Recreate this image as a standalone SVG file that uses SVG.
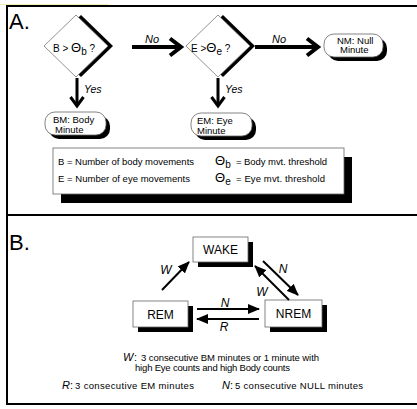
<svg xmlns="http://www.w3.org/2000/svg" width="417" height="409" viewBox="0 0 417 409">
<style>
.t{font-family:"Liberation Sans",Arial,sans-serif;fill:#000}
.i{font-style:italic}
.dia{fill:#fff;stroke:#777;stroke-width:0.8}
.sh{fill:#000;stroke:none}
.box{fill:#fff;stroke:#666;stroke-width:0.8}
.thick{stroke:#000;stroke-width:4;fill:none;stroke-linejoin:miter}
.med{stroke:#000;stroke-width:3;fill:none;stroke-linejoin:miter}
.thin{stroke:#000;stroke-width:2;fill:none}
.frame{stroke:#000;stroke-width:2;fill:none}
</style>
<defs>
<marker id="ah" viewBox="0 0 12 10" refX="11" refY="5" markerWidth="12" markerHeight="10" markerUnits="userSpaceOnUse" orient="auto">
<path d="M0,0 L12,5 L0,10 z" fill="#000"/>
</marker>
</defs>
<rect width="417" height="409" fill="#fff"/>
<line x1="0" y1="4.5" x2="108" y2="4.5" stroke="#f2eeb0" stroke-width="1"/>
<g id="frame">
<polyline class="frame" points="417,6 7,6 7,404 417,404"/>
<line class="frame" x1="7" y1="215" x2="417" y2="215"/>
</g>
<text class="t" x="9" y="29" font-size="22">A.</text>
<text class="t" x="9" y="250" font-size="22">B.</text>

<g id="nodeDiamondB">
<polygon class="sh" points="81,15 113,46 81,77 49,46"/>
<polygon class="dia" points="76,15 108,46 76,77 44,46"/>
<text class="t" x="53" y="52" font-size="10">B &gt; <tspan font-size="13">Θ</tspan><tspan dy="3">b</tspan><tspan dy="-3"> ?</tspan></text>
</g>
<g id="nodeDiamondE">
<polygon class="sh" points="223,15 255,46 223,77 191,46"/>
<polygon class="dia" points="218,15 250,46 218,77 186,46"/>
<text class="t" x="191" y="52" font-size="10">E &gt;<tspan font-size="13">Θ</tspan><tspan dy="3">e</tspan><tspan dy="-3"> ?</tspan></text>
</g>
<g id="nodeNM">
<rect class="sh" x="328" y="38" width="59" height="23" rx="10"/>
<rect class="box" x="324" y="34" width="59" height="23" rx="10"/>
<text class="t" font-size="9.5"><tspan x="337" y="43.5">NM: Null</tspan><tspan x="340" y="53">Minute</tspan></text>
</g>
<g id="nodeBM">
<rect class="sh" x="49" y="116" width="61" height="23" rx="10"/>
<rect class="box" x="45" y="112" width="61" height="23" rx="10"/>
<text class="t" font-size="9.5"><tspan x="53" y="122.5">BM: Body</tspan><tspan x="55" y="132.5">Minute</tspan></text>
</g>
<g id="nodeEM">
<rect class="sh" x="195" y="117" width="61" height="23" rx="10"/>
<rect class="box" x="191" y="113" width="61" height="23" rx="10"/>
<text class="t" font-size="9.5"><tspan x="197" y="123.5">EM: Eye</tspan><tspan x="197" y="133.5">Minute</tspan></text>
</g>

<g id="legend">
<rect class="sh" x="61" y="157" width="291" height="46"/>
<rect class="box" x="53" y="148" width="291" height="46"/>
<text class="t" x="58" y="165" font-size="9.5" textLength="136">B = Number of body movements</text>
<text class="t" x="58" y="182" font-size="9.5" textLength="132">E = Number of eye movements</text>
<text class="t" x="215" y="165" font-size="13">Θ<tspan font-size="10" dy="3">b</tspan></text>
<text class="t" x="236" y="165" font-size="9.5" textLength="91">= Body mvt. threshold</text>
<text class="t" x="215" y="182" font-size="13">Θ<tspan font-size="10" dy="3">e</tspan></text>
<text class="t" x="236" y="182" font-size="9.5" textLength="89">= Eye mvt. threshold</text>
</g>

<g id="nodeWAKE">
<rect class="sh" x="198" y="242" width="55" height="25"/>
<rect class="box" x="193" y="237" width="55" height="25"/>
<text class="t" x="220.5" y="254" font-size="12" text-anchor="middle">WAKE</text>
</g>
<g id="nodeREM">
<rect class="sh" x="138" y="306" width="55" height="26"/>
<rect class="box" x="133" y="301" width="55" height="26"/>
<text class="t" x="160.5" y="318.5" font-size="12" text-anchor="middle">REM</text>
</g>
<g id="nodeNREM">
<rect class="sh" x="270" y="305" width="57" height="27"/>
<rect class="box" x="265" y="300" width="57" height="27"/>
<text class="t" x="293.5" y="318" font-size="12" text-anchor="middle">NREM</text>
</g>

<g id="connectors">
<line class="thick" x1="132" y1="47" x2="180" y2="47"/>
<polyline class="thick" points="170,38.5 181,47 170,55.5"/>
<line class="thick" x1="255" y1="47" x2="318" y2="47"/>
<polyline class="thick" points="307,38.5 318,47 307,55.5"/>
<line class="med" x1="77" y1="78" x2="77" y2="106"/>
<polyline class="med" points="70.5,97 77,106 83.5,97"/>
<line class="med" x1="218" y1="78" x2="218" y2="106"/>
<polyline class="med" points="211.5,97 218,106 224.5,97"/>
<line class="thin" x1="162" y1="290" x2="189" y2="262" marker-end="url(#ah)"/>
<line class="thin" x1="197" y1="309" x2="259" y2="309" marker-end="url(#ah)"/>
<line class="thin" x1="259" y1="319" x2="197" y2="319" marker-end="url(#ah)"/>
<line class="thin" x1="263" y1="261" x2="298" y2="295" marker-end="url(#ah)"/>
<line class="thin" x1="289" y1="300" x2="255" y2="266" marker-end="url(#ah)"/>
</g>

<g id="labels">
<text class="t i" x="152" y="43" font-size="11" text-anchor="middle">No</text>
<text class="t i" x="279" y="43" font-size="11" text-anchor="middle">No</text>
<text class="t i" x="84" y="93" font-size="10.5">Yes</text>
<text class="t i" x="225" y="93" font-size="10.5">Yes</text>
<text class="t i" x="166" y="274" font-size="12" text-anchor="middle">W</text>
<text class="t i" x="225" y="307" font-size="12" text-anchor="middle">N</text>
<text class="t i" x="224" y="331" font-size="12" text-anchor="middle">R</text>
<text class="t i" x="283" y="273" font-size="12" text-anchor="middle">N</text>
<text class="t i" x="262" y="296" font-size="12" text-anchor="middle">W</text>
</g>

<g id="notes">
<text class="t i" x="123" y="361" font-size="11">W</text>
<text class="t" x="134" y="361" font-size="11">:</text>
<text class="t" x="141" y="361" font-size="9.5" textLength="178">3 consecutive BM minutes or 1 minute with</text>
<text class="t" x="135" y="371" font-size="9.5" textLength="155">high Eye counts and high Body counts</text>
<text class="t i" x="62" y="389" font-size="11">R</text>
<text class="t" x="70" y="389" font-size="11">:</text>
<text class="t" x="75" y="389" font-size="9.5" textLength="119">3 consecutive EM minutes</text>
<text class="t i" x="222" y="389" font-size="11">N</text>
<text class="t" x="230" y="389" font-size="11">:</text>
<text class="t" x="235" y="389" font-size="9.5" textLength="128">5 consecutive NULL minutes</text>
</g>
</svg>
